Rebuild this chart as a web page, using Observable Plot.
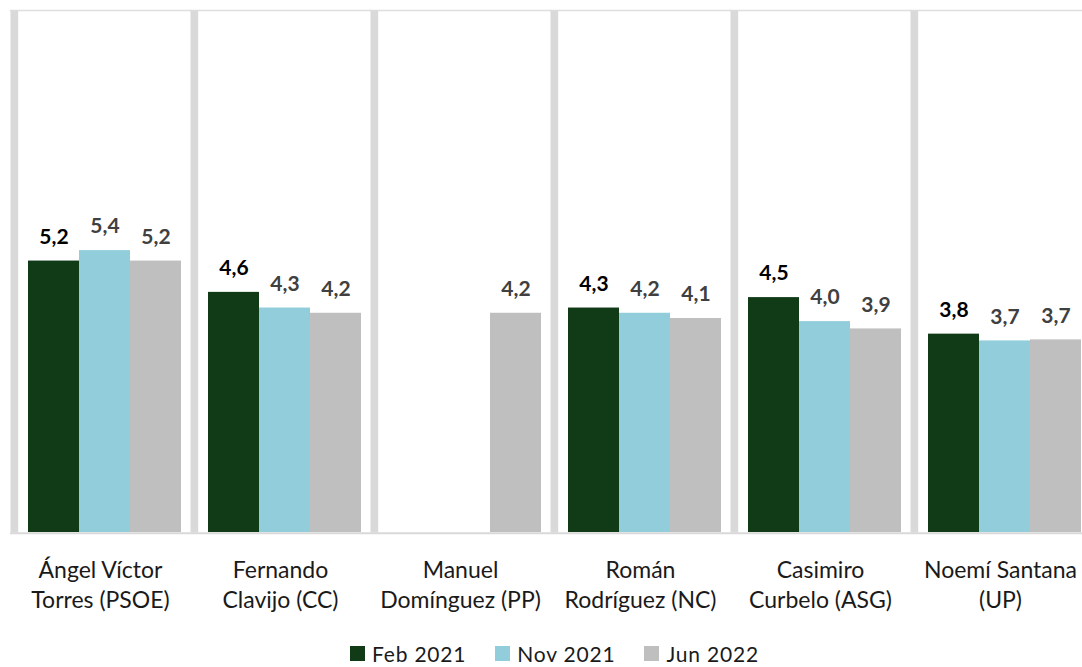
<!DOCTYPE html>
<html>
<head>
<meta charset="utf-8">
<script src="https://cdn.jsdelivr.net/npm/d3@7"></script>
<script src="https://cdn.jsdelivr.net/npm/@observablehq/plot@0.6"></script>
<style>
  html, body { margin: 0; padding: 0; background: #fff; overflow: hidden; }
  #chart svg { display: block; max-width: none; }
  .legend { display: flex; height: 31px; margin-left: 350px; font-family: Lato, sans-serif; font-size: 21px; color: #1a1a1a; letter-spacing: 0.8px; }
  .item { display: flex; align-items: center; height: 15px; margin-top: 10px; margin-right: 29px; line-height: 15px; }
  .sw { width: 15px; height: 15px; margin-right: 7px; }
</style>
</head>
<body>
<div id="chart"></div>
<div class="legend" id="legend"></div>
<script>
const candidates = [
  "Ángel Víctor\nTorres (PSOE)",
  "Fernando\nClavijo (CC)",
  "Manuel\nDomínguez (PP)",
  "Román\nRodríguez (NC)",
  "Casimiro\nCurbelo (ASG)",
  "Noemí Santana\n(UP)"
];
const series = ["Feb 2021", "Nov 2021", "Jun 2022"];
const colors = ["#113A17", "#92CDDC", "#BFBFBF"];
const feb2021 = [5.2, 4.6, null, 4.3, 4.5, 3.8];
const nov2021 = [5.4, 4.3, null, 4.2, 4.04, 3.67];
const jun2022 = [5.2, 4.2, 4.2, 4.1, 3.9, 3.69];

const valuesBySeries = [feb2021, nov2021, jun2022];
const data = [];
candidates.forEach((c, i) => {
  series.forEach((s, j) => {
    const v = valuesBySeries[j][i];
    if (v != null) data.push({cand: c, series: s, value: v});
  });
});
const fmt = v => v.toFixed(1).replace(".", ",");

const plot = Plot.plot({
  width: 1090,
  height: 636,
  marginTop: 10,
  marginBottom: 104,
  marginLeft: 10,
  marginRight: 0,
  style: {fontFamily: "Lato, sans-serif", background: "#fff"},
  fx: {domain: candidates, paddingInner: 0, paddingOuter: 0, axis: null, label: null},
  x: {domain: series, insetLeft: 8, paddingInner: 0, paddingOuter: 0.186, axis: null, label: null},
  y: {domain: [0, 10], axis: null, label: null},
  color: {domain: series, range: colors},
  marks: [
    Plot.frame({anchor: "top", stroke: "#dedede", strokeWidth: 1.3}),
    Plot.barY(data, {fx: "cand", x: "series", y: "value", fill: "series"}),
    Plot.frame({anchor: "left", stroke: "#d9d9d9", strokeWidth: 7.7, insetLeft: 3.85, strokeLinecap: "butt"}),
    Plot.ruleY([0], {stroke: "#d9d9d9", strokeWidth: 2, dy: 0.8}),
    Plot.text(data, {
      filter: d => d.series === series[0],
      fx: "cand", x: "series", y: "value", text: d => fmt(d.value),
      dy: -24, fontSize: 21, fontWeight: "bold", fill: "#000"
    }),
    Plot.text(data, {
      filter: d => d.series !== series[0],
      fx: "cand", x: "series", y: "value", text: d => fmt(d.value),
      dy: -24, fontSize: 21, fontWeight: "bold", fill: "#404040"
    }),
    Plot.text(candidates, {
      fx: d => d, text: d => d, frameAnchor: "bottom", lineAnchor: "top",
      dy: 24.4, fontSize: 23, lineHeight: 1.3, fill: "#1a1a1a", letterSpacing: "0.7px"
    })
  ]
});
document.getElementById("chart").appendChild(plot);

const legend = document.getElementById("legend");
series.forEach((s, i) => {
  const item = document.createElement("div");
  item.className = "item";
  const sw = document.createElement("span");
  sw.className = "sw";
  sw.style.background = colors[i];
  const t = document.createElement("span");
  t.textContent = s;
  item.appendChild(sw);
  item.appendChild(t);
  legend.appendChild(item);
});
</script>
</body>
</html>
